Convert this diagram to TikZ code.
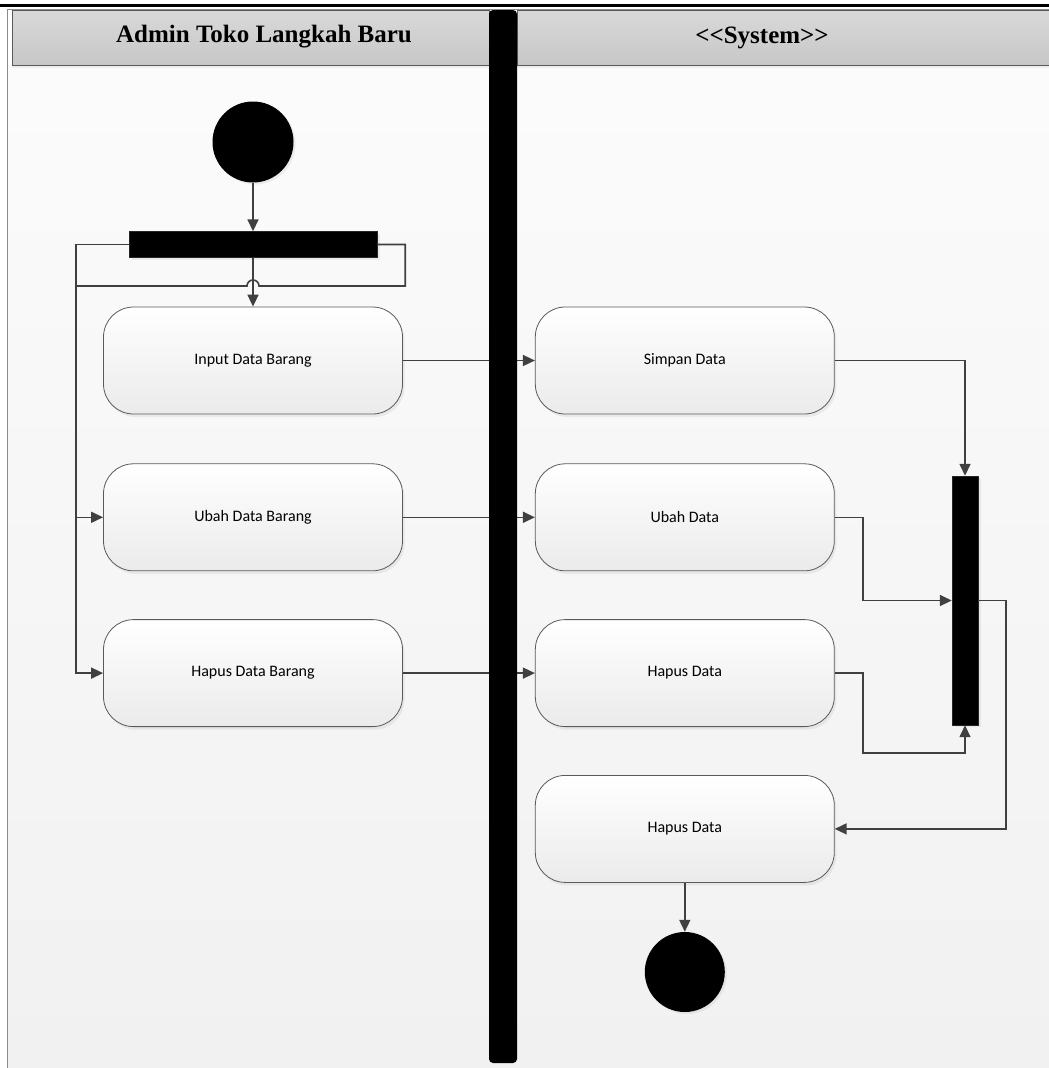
\documentclass[tikz,border=0pt]{standalone}
\usepackage{fontspec}
\setmainfont{Liberation Serif}
\newfontfamily\actfont{Carlito}
\usepackage{xcolor}
\usetikzlibrary{arrows.meta,positioning,shadows}
\definecolor{wiregray}{HTML}{404040}
\definecolor{boxline}{HTML}{5A5A5A}

\begin{document}
\begin{tikzpicture}[x=1pt,y=-1pt,
            node distance=49pt,
            act/.style={
                draw=boxline, line width=0.8pt,
                rounded corners=30pt,
                minimum width=299pt, minimum height=107pt,
                inner sep=0pt,
                top color=white, bottom color=black!8,
                drop shadow={shadow xshift=2pt,shadow yshift=-3pt,opacity=0.12},
                font=\actfont\fontsize{16}{19}\selectfont},
            syncbar/.style={fill=black, draw=black!85, inner sep=0pt,
                drop shadow={shadow xshift=3pt,shadow yshift=-2pt,opacity=0.12}},
            dot/.style={circle, fill=black, minimum size=81pt, inner sep=0pt,
                drop shadow={shadow xshift=2pt,shadow yshift=-2pt,opacity=0.12}},
            lanehead/.style={draw=boxline, line width=0.8pt, top color=black!15, bottom color=black!22,
                drop shadow={shadow xshift=0pt,shadow yshift=-3pt,opacity=0.1}},
            wire/.style={draw=wiregray, line width=1.6pt},
            flow/.style={wire, -{Triangle[length=12pt,width=11pt]}}]
            \useasboundingbox (0,0) rectangle (1049,1068);
            \shade[top color=black!1.5, bottom color=black!5.5] (7,65) rectangle (1049,1068);
            \draw[black!45, line width=1pt] (7,1068) -- (7,9) -- (1049,9);
            \draw[black, line width=3pt] (0,5) -- (1049,5);
            \path[lanehead] (12,10) rectangle (489,65);
            \path[lanehead] (517,10) rectangle (1049,65);
            \node (admin) at (264,37) {\bfseries\fontsize{25}{30}\selectfont Admin Toko Langkah Baru};
            \node (system) at (762,38) {\bfseries\fontsize{25}{30}\selectfont <\kern0pt<System>\kern0pt>};

            \node (start) [dot] at (253,142) {};
            \node (fork) [syncbar, minimum width=248pt, minimum height=26pt] at (253,244.5) {};
            \node (input) [act] at (253,360.5) {Input Data Barang};
            \node (ubah) [act, below=of input] {Ubah Data Barang};
            \node (hapus) [act, below=48pt of ubah] {Hapus Data Barang};
            \node (simpan) [act, right=132pt of input] {Simpan Data};
            \node (ubahdata) [act, right=132pt of ubah] {Ubah Data};
            \node (hapusdata) [act, right=132pt of hapus] {Hapus Data};
            \node (akhir) [act, below=48pt of hapusdata] {Hapus Data};
            \node (join) [syncbar, minimum width=26pt, minimum height=249pt] at (965,600.5) {};
            \node (end) [dot, minimum size=80pt, below=49pt of akhir] {};
            \coordinate (rail) at (76,286);

            \draw[flow] (start) -- (fork.north);
            \draw[flow] (fork.south) -- (input.north);
            \draw[wire] (fork.east) -- ++(28,0) |- ([xshift=6pt]rail -| input.north)
                arc[start angle=0, end angle=180, radius=6pt] -- (rail);
            \draw[flow] (fork.west) -| (rail |- hapus.west) -- (hapus.west);
            \draw[flow] (rail |- ubah.west) -- (ubah.west);
            \draw[flow] (input) -- (simpan);
            \draw[flow] (ubah) -- (ubahdata);
            \draw[flow] (hapus) -- (hapusdata);
            \draw[flow] (simpan.east) -| (join.north);
            \draw[flow] (ubahdata.east) -- ++(28,0) |- (join.west);
            \draw[flow] (hapusdata.east) -- ++(28,0) |- ([yshift=-28pt]join.south) -- (join.south);
            \draw[flow] (join.east) -- ++(28,0) |- (akhir.east);
            \draw[flow] (akhir) -- (end);

            \fill[black, rounded corners=4pt] (489,10) rectangle (517,1063);
\end{tikzpicture}
\end{document}
